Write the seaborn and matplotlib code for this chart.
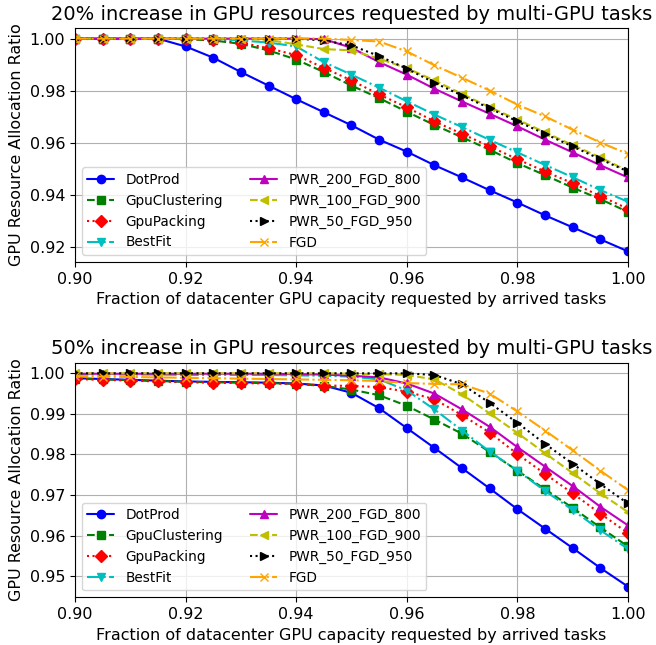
import numpy as np
import pandas as pd
import matplotlib
matplotlib.use("Agg")
import matplotlib.pyplot as plt
from matplotlib.ticker import MultipleLocator
import seaborn as sns

# x positions: fraction of datacenter GPU capacity requested
frac = [0.900, 0.905, 0.910, 0.915, 0.920, 0.925, 0.930, 0.935, 0.940, 0.945, 0.950,
        0.955, 0.960, 0.965, 0.970, 0.975, 0.980, 0.985, 0.990, 0.995, 1.000]

policies = ['DotProd', 'GpuClustering', 'GpuPacking', 'BestFit',
            'PWR_200_FGD_800', 'PWR_100_FGD_900', 'PWR_50_FGD_950', 'FGD']

# 20% increase
dot_20 = [1.0, 1.0, 1.0, 1.0, 0.9970, 0.9927, 0.9872, 0.9820, 0.9768, 0.9718, 0.9668,
          0.9613, 0.9567, 0.9515, 0.9468, 0.9419, 0.9372, 0.9323, 0.9277, 0.9231, 0.9185]
clus_20 = [1.0, 1.0, 1.0, 1.0, 0.9998, 0.9993, 0.9980, 0.9955, 0.9920, 0.9872, 0.9820,
           0.9772, 0.9720, 0.9669, 0.9622, 0.9574, 0.9523, 0.9477, 0.9429, 0.9385, 0.9336]
pack_20 = [1.0, 1.0, 1.0, 1.0, 0.9999, 0.9995, 0.9985, 0.9963, 0.9937, 0.9888, 0.9840,
           0.9786, 0.9737, 0.9683, 0.9635, 0.9587, 0.9538, 0.9491, 0.9446, 0.9397, 0.9348]
best_20 = [1.0, 1.0, 1.0, 1.0, 1.0, 0.9998, 0.9993, 0.9985, 0.9970, 0.9910, 0.9862,
           0.9812, 0.9760, 0.9709, 0.9661, 0.9612, 0.9564, 0.9516, 0.9469, 0.9420, 0.9375]
p200_20 = [1.0, 1.0, 1.0, 1.0, 1.0, 1.0, 1.0, 1.0, 1.0, 0.9998, 0.9965,
           0.9910, 0.9862, 0.9808, 0.9759, 0.9712, 0.9664, 0.9613, 0.9564, 0.9515, 0.9468]
p100_20 = [1.0, 1.0, 1.0, 1.0, 1.0, 1.0, 1.0, 0.9995, 0.9978, 0.9960, 0.9955,
           0.9923, 0.9887, 0.9840, 0.9788, 0.9737, 0.9690, 0.9641, 0.9592, 0.9545, 0.9493]
p50_20 = [1.0, 1.0, 1.0, 1.0, 1.0, 1.0, 1.0, 1.0, 1.0, 0.9993, 0.9974,
          0.9933, 0.9885, 0.9831, 0.9782, 0.9733, 0.9683, 0.9635, 0.9587, 0.9538, 0.9491]
fgd_20 = [1.0, 1.0, 1.0, 1.0, 1.0, 1.0, 1.0, 1.0, 1.0, 1.0, 0.9995,
          0.9989, 0.9951, 0.9898, 0.9850, 0.9801, 0.9747, 0.9702, 0.9651, 0.9602, 0.9558]

# 50% increase
dot_50 = [0.9988, 0.9986, 0.9984, 0.9982, 0.9980, 0.9979, 0.9978, 0.9977, 0.9975, 0.9970, 0.9952,
          0.9914, 0.9865, 0.9816, 0.9766, 0.9716, 0.9665, 0.9617, 0.9569, 0.9520, 0.9474]
clus_50 = [0.9987, 0.9985, 0.9983, 0.9981, 0.9979, 0.9978, 0.9977, 0.9976, 0.9974, 0.9969, 0.9960,
           0.9946, 0.9920, 0.9886, 0.9851, 0.9806, 0.9760, 0.9714, 0.9668, 0.9620, 0.9573]
pack_50 = [0.9986, 0.9984, 0.9982, 0.9980, 0.9978, 0.9977, 0.9976, 0.9975, 0.9974, 0.9970, 0.9969,
           0.9966, 0.9955, 0.9936, 0.9897, 0.9854, 0.9801, 0.9752, 0.9704, 0.9654, 0.9606]
best_50 = [0.9997, 0.9997, 0.9997, 0.9997, 0.9996, 0.9996, 0.9996, 0.9996, 0.9995, 0.9994, 0.9992,
           0.9985, 0.9958, 0.9911, 0.9859, 0.9807, 0.9760, 0.9710, 0.9663, 0.9613, 0.9567]
p200_50 = [0.9999, 0.9999, 0.9999, 0.9999, 0.9999, 0.9999, 0.9999, 0.9999, 0.9998, 0.9997, 0.9994,
           0.9990, 0.9975, 0.9950, 0.9911, 0.9868, 0.9818, 0.9770, 0.9722, 0.9671, 0.9625]
p100_50 = [1.0, 1.0, 1.0, 1.0, 1.0, 1.0, 1.0, 1.0, 1.0, 1.0, 0.9999,
           0.9998, 0.9996, 0.9985, 0.9948, 0.9901, 0.9853, 0.9803, 0.9754, 0.9704, 0.9658]
p50_50 = [1.0, 1.0, 1.0, 1.0, 1.0, 1.0, 1.0, 1.0, 1.0, 1.0, 1.0,
          1.0, 1.0, 0.9996, 0.9973, 0.9927, 0.9878, 0.9826, 0.9777, 0.9727, 0.9679]
fgd_50 = [0.9993, 0.9992, 0.9991, 0.9990, 0.9989, 0.9988, 0.9987, 0.9986, 0.9985, 0.9984, 0.9983,
          0.9981, 0.9976, 0.9974, 0.9973, 0.9950, 0.9906, 0.9859, 0.9810, 0.9760, 0.9712]

series_20 = [dot_20, clus_20, pack_20, best_20, p200_20, p100_20, p50_20, fgd_20]
series_50 = [dot_50, clus_50, pack_50, best_50, p200_50, p100_50, p50_50, fgd_50]

styles = {
    'DotProd':         ('b', '-', 'o'),
    'GpuClustering':   ('g', '--', 's'),
    'GpuPacking':      ('r', ':', 'D'),
    'BestFit':         ('c', '-.', 'v'),
    'PWR_200_FGD_800': ('m', '-', '^'),
    'PWR_100_FGD_900': ('y', '--', '<'),
    'PWR_50_FGD_950':  ('k', ':', '>'),
    'FGD':             ('orange', '-.', 'x'),
}


def to_long(series):
    rows = []
    for name, vals in zip(policies, series):
        for f, v in zip(frac, vals):
            rows.append({'frac': f, 'ratio': v, 'policy': name})
    return pd.DataFrame(rows)


def draw(ax, df, title):
    for name in policies:
        color, ls, mk = styles[name]
        sub = df[df['policy'] == name]
        sns.lineplot(data=sub, x='frac', y='ratio', ax=ax, color=color, linestyle=ls,
                     marker=mk, markersize=6, markeredgecolor=color, markerfacecolor=color,
                     markeredgewidth=1.0, linewidth=1.5, label=name)
    ax.set_xlim(0.9, 1.0)
    ax.xaxis.set_major_locator(MultipleLocator(0.02))
    ax.set_title(title, fontsize=14)
    ax.set_xlabel('Fraction of datacenter GPU capacity requested by arrived tasks', fontsize=11.5)
    ax.set_ylabel('GPU Resource Allocation Ratio', fontsize=11.5)
    ax.tick_params(labelsize=11.5)
    ax.grid(True, color='#b0b0b0', linewidth=0.8)
    ax.legend(loc='lower left', ncol=2, fontsize=9.8)


sns.set_style('ticks', {'text.color': 'black', 'axes.labelcolor': 'black',
                        'xtick.color': 'black', 'ytick.color': 'black',
                        'axes.edgecolor': 'black'})
plt.rcParams['font.family'] = ['DejaVu Sans']

fig = plt.figure(figsize=(6.56, 6.45), dpi=100)
ax1 = fig.add_axes([0.1143, 0.5938, 0.8430, 0.3628])
ax2 = fig.add_axes([0.1143, 0.0740, 0.8430, 0.3637])

draw(ax1, to_long(series_20), '20% increase in GPU resources requested by multi-GPU tasks')
ax1.yaxis.set_major_locator(MultipleLocator(0.02))
draw(ax2, to_long(series_50), '50% increase in GPU resources requested by multi-GPU tasks')
ax2.yaxis.set_major_locator(MultipleLocator(0.01))

fig.savefig('out.png', dpi=100)
plt.close(fig)
